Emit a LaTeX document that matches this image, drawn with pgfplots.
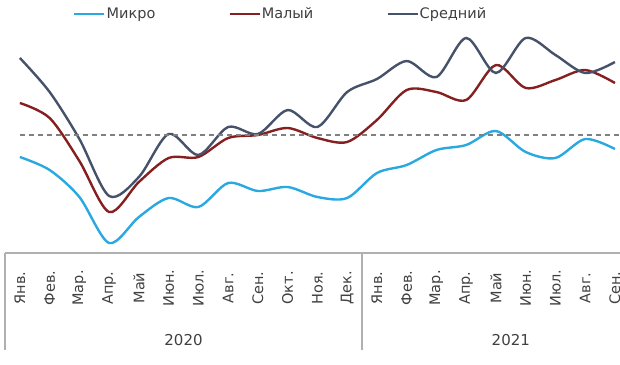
\documentclass[border=0pt]{standalone}
\usepackage{pgfplots}
\pgfplotsset{compat=1.18}
\usepackage{pgfplotstable}
\usepackage{fontspec}
\setmainfont{DejaVu Sans}
\definecolor{cMicro}{HTML}{2AA9E0}
\definecolor{cSmall}{HTML}{862020}
\definecolor{cMed}{HTML}{45526A}
\definecolor{cText}{HTML}{404040}
\definecolor{cAxis}{HTML}{B0B0B0}
\pgfplotstableread{
x micro small medium
0 47.8 53.2 57.7
1 46.5 51.7 54.3
2 43.8 47.4 49.6
3 39.2 42.3 43.9
4 41.8 45.3 45.8
5 43.7 47.7 50.1
6 42.8 47.8 48.0
7 45.2 49.7 50.8
8 44.4 50.0 50.1
9 44.8 50.7 52.5
10 43.8 49.7 50.8
11 43.7 49.3 54.3
12 46.2 51.5 55.6
13 47.0 54.5 57.4
14 48.5 54.3 55.8
15 49.0 53.5 59.7
16 50.4 57.0 56.2
17 48.3 54.7 59.7
18 47.7 55.5 58.0
19 49.6 56.5 56.2
20 48.6 55.2 57.3
}\datatable
\begin{document}
\begin{tikzpicture}
\begin{axis}[
  scale only axis, width=615pt, height=253pt,
  xmin=-0.5, xmax=20.17, ymin=38.2, ymax=63.5,
  clip mode=individual,
  axis line style={draw=none},
  ytick=\empty,
  xtick={0,...,20},
  xticklabels={Янв.,Фев.,Мар.,Апр.,Май,Июн.,Июл.,Авг.,Сен.,Окт.,Ноя.,Дек.,Янв.,Фев.,Мар.,Апр.,Май,Июн.,Июл.,Авг.,Сен.},
  major tick length=0pt,
  x tick label style={rotate=90, anchor=center, xshift=-35pt, yshift=0pt, font=\fontsize{14.5}{17}\selectfont, text=cText},
  legend columns=3,
  legend style={draw=none, fill=none, at={(rel axis cs:0,1)}, anchor=west, xshift=65pt, yshift=-14pt,
    font=\fontsize{14.5}{17}\selectfont, text=cText, nodes={inner sep=1pt},
    /tikz/every even column/.append style={column sep=72pt}},
  legend image code/.code={\draw[#1] (0pt,0pt) -- (30pt,0pt);},
]
\addplot[cMicro, line width=2.4pt, smooth] table[x=x, y=micro] {\datatable};
\addlegendentry{Микро}
\addplot[cSmall, line width=2.4pt, smooth] table[x=x, y=small] {\datatable};
\addlegendentry{Малый}
\addplot[cMed, line width=2.4pt, smooth] table[x=x, y=medium] {\datatable};
\addlegendentry{Средний}
\addplot[gray, line width=1.2pt, dash pattern=on 5pt off 4pt, forget plot] coordinates {(0,50) (21,50)};
\draw[cAxis, line width=1.4pt] (rel axis cs:0,0) -- (rel axis cs:1,0);
\draw[cAxis, line width=1.4pt] (axis cs:-0.5,38.2) -- ([yshift=-97pt]axis cs:-0.5,38.2);
\draw[cAxis, line width=1.4pt] (axis cs:11.5,38.2) -- ([yshift=-97pt]axis cs:11.5,38.2);
\node[text=cText, font=\fontsize{15}{18}\selectfont] at ([yshift=-87pt]axis cs:5.5,38.2) {2020};
\node[text=cText, font=\fontsize{15}{18}\selectfont] at ([yshift=-87pt]axis cs:16.5,38.2) {2021};
\coordinate (bl) at ([xshift=-5pt,yshift=-111pt]rel axis cs:0,0);
\coordinate (tr) at (rel axis cs:1,1);
\end{axis}
\pgfresetboundingbox
\useasboundingbox (bl) rectangle (tr);
\end{tikzpicture}
\end{document}
